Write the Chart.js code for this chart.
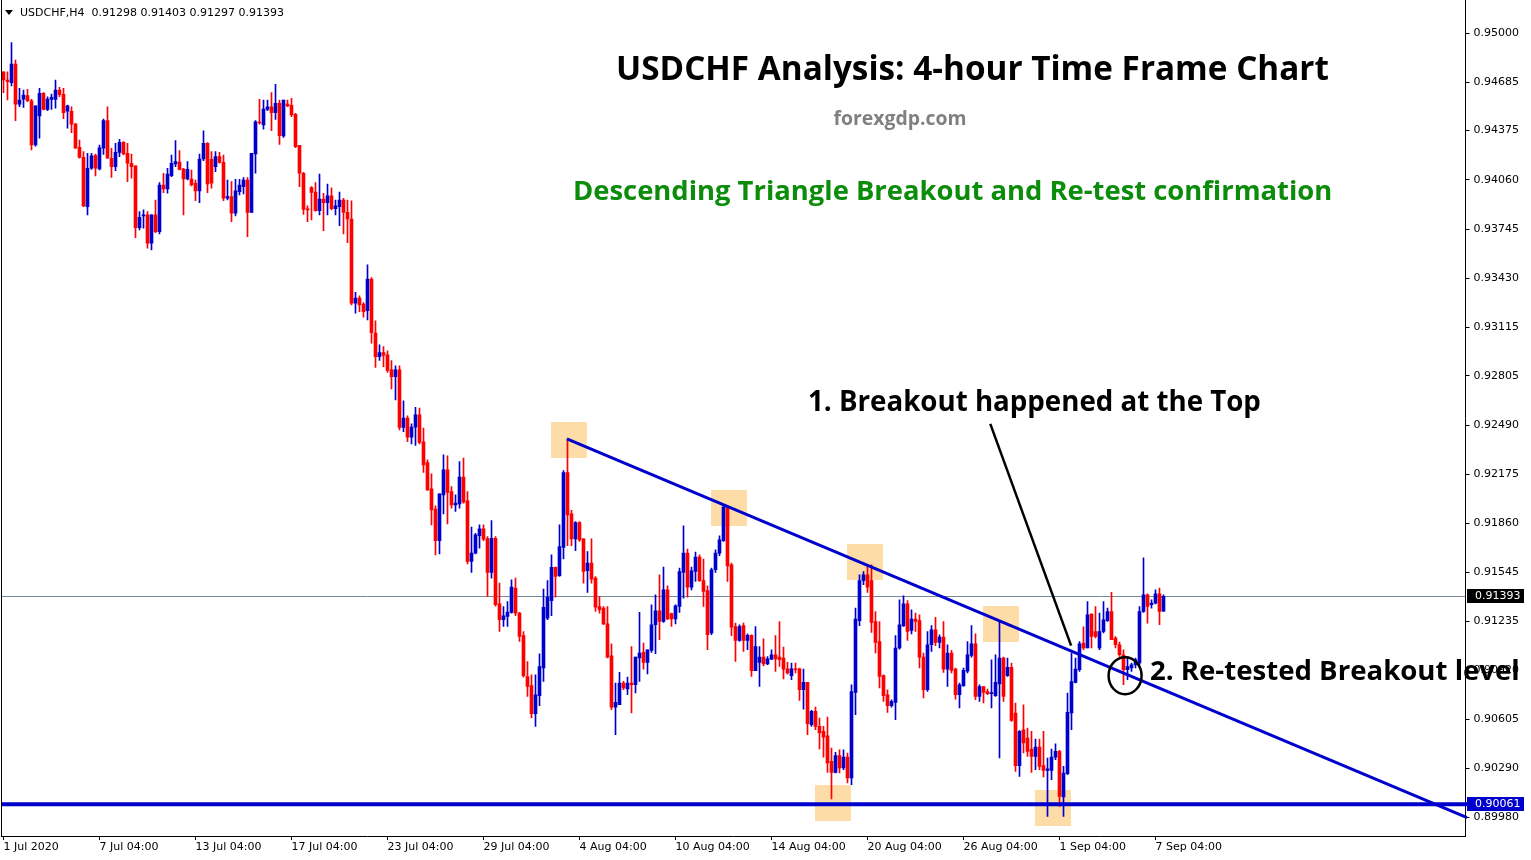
<!DOCTYPE html>
<html>
<head>
<meta charset="utf-8">
<script src="https://cdn.jsdelivr.net/npm/chart.js@4.4.1/dist/chart.umd.min.js"></script>
<style>
  html, body { margin: 0; padding: 0; background: #fff; }
  #wrap { width: 1531px; height: 860px; }
</style>
</head>
<body>
<div id="wrap"><canvas id="chart" width="1531" height="860"></canvas></div>
<script>
// ---- axis labels
const xLabels = ["1 Jul 2020", "7 Jul 04:00", "13 Jul 04:00", "17 Jul 04:00", "23 Jul 04:00", "29 Jul 04:00",
  "4 Aug 04:00", "10 Aug 04:00", "14 Aug 04:00", "20 Aug 04:00", "26 Aug 04:00", "1 Sep 04:00", "7 Sep 04:00"];
const barsPerLabel = 24;
const slotCount = 366;
const priceTicks = [0.95000, 0.94685, 0.94375, 0.94060, 0.93745, 0.93430, 0.93115, 0.92805, 0.92490,
  0.92175, 0.91860, 0.91545, 0.91235, 0.90920, 0.90605, 0.90290, 0.89980];
const yMin = 0.898585;
const yMax = 0.952113;

// ---- USDCHF H4 candles
const opens = [
  0.94752, 0.94699, 0.94682, 0.94801, 0.94545, 0.94576, 0.94599, 0.94565, 0.94283, 0.94469,
  0.94614, 0.94511, 0.94575, 0.94575, 0.94635, 0.94607, 0.94499, 0.94499, 0.94417, 0.94268,
  0.94204, 0.93888, 0.94134, 0.94215, 0.94129, 0.94262, 0.94439, 0.94198, 0.94144, 0.94236,
  0.94300, 0.94230, 0.94166, 0.94149, 0.93754, 0.93829, 0.93835, 0.93654, 0.93835, 0.93728,
  0.94027, 0.94001, 0.94087, 0.94161, 0.94174, 0.94129, 0.94065, 0.94065, 0.94038, 0.93989,
  0.94193, 0.94294, 0.94191, 0.94144, 0.94208, 0.94172, 0.93942, 0.93952, 0.93846, 0.93984,
  0.94016, 0.94059, 0.93852, 0.94225, 0.94430, 0.94411, 0.94511, 0.94528, 0.94490, 0.94550,
  0.94341, 0.94545, 0.94537, 0.94480, 0.94281, 0.94102, 0.93873, 0.94010, 0.93982, 0.93863,
  0.93937, 0.93914, 0.93957, 0.93875, 0.93888, 0.93931, 0.93852, 0.93809, 0.93270, 0.93302,
  0.93265, 0.93222, 0.93425, 0.93078, 0.92928, 0.92954, 0.92939, 0.92843, 0.92800, 0.92843,
  0.92474, 0.92534, 0.92412, 0.92476, 0.92555, 0.92382, 0.92250, 0.92081, 0.91951, 0.91750,
  0.92043, 0.92203, 0.92064, 0.91979, 0.91985, 0.92156, 0.92005, 0.91616, 0.91670, 0.91781,
  0.91825, 0.91763, 0.91546, 0.91765, 0.91345, 0.91243, 0.91264, 0.91290, 0.91446, 0.91286,
  0.91141, 0.90880, 0.90821, 0.90641, 0.90757, 0.90934, 0.91254, 0.91366, 0.91578, 0.91525,
  0.91706, 0.92186, 0.91921, 0.91761, 0.91866, 0.91761, 0.91558, 0.91606, 0.91510, 0.91328,
  0.91318, 0.91217, 0.91012, 0.90684, 0.90699, 0.90838, 0.90800, 0.90838, 0.90827, 0.90998,
  0.91034, 0.90970, 0.91047, 0.91211, 0.91300, 0.91232, 0.91435, 0.91282, 0.91248, 0.91328,
  0.91546, 0.91670, 0.91452, 0.91552, 0.91644, 0.91494, 0.91430, 0.91158, 0.91563, 0.91670,
  0.91750, 0.91964, 0.91595, 0.91200, 0.91111, 0.91205, 0.91111, 0.91143, 0.90917, 0.90970,
  0.91004, 0.90961, 0.90991, 0.91019, 0.91004, 0.90998, 0.90929, 0.90885, 0.90929, 0.90929,
  0.90795, 0.90842, 0.90571, 0.90657, 0.90560, 0.90528, 0.90500, 0.90336, 0.90266, 0.90373,
  0.90294, 0.90364, 0.90230, 0.90778, 0.91238, 0.91494, 0.91531, 0.91494, 0.91232, 0.91104,
  0.90885, 0.90763, 0.90693, 0.90714, 0.91062, 0.91204, 0.91345, 0.91175, 0.91248, 0.91238,
  0.91004, 0.90795, 0.91083, 0.91179, 0.91098, 0.91132, 0.90927, 0.91030, 0.90927, 0.90763,
  0.90821, 0.90914, 0.91015, 0.91089, 0.90752, 0.90816, 0.90784, 0.90770, 0.90757, 0.90833,
  0.90998, 0.90885, 0.90938, 0.90646, 0.90309, 0.90539, 0.90486, 0.90415, 0.90368, 0.90428,
  0.90309, 0.90279, 0.90279, 0.90364, 0.90400, 0.90108, 0.90258, 0.90646, 0.90842, 0.90923,
  0.91094, 0.91062, 0.91279, 0.91168, 0.91062, 0.91168, 0.91238, 0.91296, 0.91126, 0.91083,
  0.91019, 0.90923, 0.90934, 0.90955, 0.90966, 0.91296, 0.91403, 0.91339, 0.91350, 0.91409,
  0.91298
];
const highs = [
  0.94752, 0.94752, 0.94938, 0.94827, 0.94646, 0.94635, 0.94639, 0.94575, 0.94533, 0.94646,
  0.94618, 0.94592, 0.94609, 0.94699, 0.94652, 0.94646, 0.94539, 0.94528, 0.94422, 0.94315,
  0.94240, 0.94230, 0.94230, 0.94225, 0.94283, 0.94449, 0.94528, 0.94262, 0.94294, 0.94319,
  0.94305, 0.94294, 0.94225, 0.94149, 0.93856, 0.93867, 0.93856, 0.93835, 0.93931, 0.94042,
  0.94102, 0.94134, 0.94219, 0.94311, 0.94247, 0.94134, 0.94176, 0.94123, 0.94059, 0.94225,
  0.94373, 0.94298, 0.94240, 0.94240, 0.94236, 0.94219, 0.94059, 0.94048, 0.94063, 0.94063,
  0.94074, 0.94074, 0.94230, 0.94439, 0.94575, 0.94571, 0.94571, 0.94618, 0.94671, 0.94571,
  0.94571, 0.94571, 0.94582, 0.94486, 0.94281, 0.94108, 0.93893, 0.94016, 0.94042, 0.94097,
  0.93974, 0.94033, 0.94008, 0.93931, 0.93982, 0.93942, 0.93931, 0.93925, 0.93340, 0.93317,
  0.93274, 0.93515, 0.93434, 0.93157, 0.93003, 0.92992, 0.92965, 0.92903, 0.92869, 0.92869,
  0.92645, 0.92549, 0.92497, 0.92604, 0.92598, 0.92470, 0.92267, 0.92178, 0.91973, 0.92049,
  0.92299, 0.92293, 0.92096, 0.92043, 0.92256, 0.92278, 0.92064, 0.91836, 0.91796, 0.91851,
  0.91851, 0.91776, 0.91878, 0.91776, 0.91478, 0.91328, 0.91360, 0.91499, 0.91510, 0.91290,
  0.91168, 0.90976, 0.90891, 0.90891, 0.91025, 0.91440, 0.91494, 0.91659, 0.91580, 0.91851,
  0.92199, 0.92399, 0.91943, 0.91872, 0.91872, 0.91761, 0.91680, 0.91761, 0.91520, 0.91392,
  0.91328, 0.91328, 0.91089, 0.90838, 0.90906, 0.90849, 0.90876, 0.91072, 0.91004, 0.91290,
  0.91094, 0.91051, 0.91339, 0.91403, 0.91531, 0.91580, 0.91461, 0.91286, 0.91339, 0.91574,
  0.91845, 0.91696, 0.91580, 0.91676, 0.91659, 0.91632, 0.91461, 0.91574, 0.91691, 0.91781,
  0.91979, 0.91973, 0.91606, 0.91222, 0.91211, 0.91222, 0.91153, 0.91147, 0.91200, 0.91072,
  0.91121, 0.91008, 0.91051, 0.91141, 0.91232, 0.91068, 0.90970, 0.90966, 0.90966, 0.90934,
  0.90927, 0.90842, 0.90663, 0.90684, 0.90614, 0.90560, 0.90620, 0.90422, 0.90394, 0.90411,
  0.90411, 0.90390, 0.90827, 0.91318, 0.91531, 0.91552, 0.91595, 0.91595, 0.91296, 0.91232,
  0.90891, 0.90795, 0.90731, 0.91141, 0.91371, 0.91397, 0.91366, 0.91307, 0.91286, 0.91275,
  0.91030, 0.91168, 0.91205, 0.91259, 0.91147, 0.91232, 0.91083, 0.91047, 0.90934, 0.90838,
  0.90934, 0.91104, 0.91205, 0.91153, 0.90827, 0.90816, 0.90800, 0.90987, 0.91019, 0.91232,
  0.91004, 0.90998, 0.90966, 0.90710, 0.90534, 0.90699, 0.90550, 0.90528, 0.90479, 0.90479,
  0.90528, 0.90358, 0.90415, 0.90449, 0.90407, 0.90304, 0.90774, 0.91030, 0.90998, 0.91104,
  0.91197, 0.91360, 0.91281, 0.91328, 0.91286, 0.91360, 0.91318, 0.91418, 0.91136, 0.91100,
  0.91051, 0.91008, 0.90966, 0.90998, 0.91328, 0.91640, 0.91409, 0.91371, 0.91435, 0.91446,
  0.91403
];
const lows = [
  0.94618, 0.94571, 0.94661, 0.94439, 0.94528, 0.94524, 0.94560, 0.94251, 0.94276, 0.94326,
  0.94507, 0.94503, 0.94511, 0.94518, 0.94592, 0.94451, 0.94390, 0.94362, 0.94262, 0.94198,
  0.93888, 0.93835, 0.94127, 0.94085, 0.94123, 0.94223, 0.94198, 0.94076, 0.94118, 0.94208,
  0.94219, 0.94048, 0.94070, 0.93690, 0.93739, 0.93750, 0.93622, 0.93611, 0.93722, 0.93713,
  0.93978, 0.93974, 0.94080, 0.94144, 0.94123, 0.93835, 0.94059, 0.94021, 0.93926, 0.93914,
  0.94183, 0.93978, 0.94006, 0.94112, 0.94166, 0.93926, 0.93931, 0.93792, 0.93829, 0.93963,
  0.93969, 0.93696, 0.93852, 0.94102, 0.94417, 0.94385, 0.94503, 0.94375, 0.94447, 0.94287,
  0.94332, 0.94528, 0.94464, 0.94266, 0.94016, 0.93839, 0.93792, 0.93803, 0.93860, 0.93835,
  0.93734, 0.93835, 0.93867, 0.93835, 0.93766, 0.93713, 0.93658, 0.93259, 0.93206, 0.93216,
  0.93180, 0.93163, 0.93014, 0.92858, 0.92903, 0.92864, 0.92826, 0.92721, 0.92651, 0.92459,
  0.92448, 0.92384, 0.92369, 0.92359, 0.92369, 0.92186, 0.92071, 0.91851, 0.91659, 0.91665,
  0.91921, 0.91857, 0.91958, 0.91936, 0.91958, 0.91990, 0.91601, 0.91546, 0.91665, 0.91702,
  0.91750, 0.91392, 0.91510, 0.91330, 0.91168, 0.91200, 0.91200, 0.91286, 0.91269, 0.91104,
  0.90876, 0.90752, 0.90614, 0.90560, 0.90693, 0.90848, 0.91243, 0.91269, 0.91388, 0.91520,
  0.91632, 0.91717, 0.91717, 0.91686, 0.91744, 0.91478, 0.91418, 0.91478, 0.91296, 0.91286,
  0.91211, 0.90998, 0.90667, 0.90507, 0.90699, 0.90795, 0.90763, 0.90646, 0.90774, 0.90848,
  0.90927, 0.90897, 0.91034, 0.91026, 0.91115, 0.91226, 0.91243, 0.91200, 0.91216, 0.91290,
  0.91382, 0.91388, 0.91434, 0.91488, 0.91488, 0.91328, 0.91051, 0.91147, 0.91546, 0.91653,
  0.91744, 0.91488, 0.91141, 0.90976, 0.91104, 0.91040, 0.91051, 0.90880, 0.90917, 0.90816,
  0.90948, 0.90955, 0.90987, 0.90912, 0.90944, 0.90864, 0.90895, 0.90859, 0.90902, 0.90727,
  0.90671, 0.90507, 0.90560, 0.90539, 0.90416, 0.90364, 0.90266, 0.90096, 0.90262, 0.90262,
  0.90283, 0.90198, 0.90187, 0.90635, 0.91205, 0.91467, 0.91418, 0.91162, 0.91030, 0.90806,
  0.90720, 0.90650, 0.90684, 0.90603, 0.91055, 0.91200, 0.91111, 0.91153, 0.91168, 0.90934,
  0.90742, 0.90784, 0.91040, 0.91077, 0.91062, 0.90906, 0.90816, 0.90902, 0.90735, 0.90678,
  0.90816, 0.90902, 0.91004, 0.90731, 0.90720, 0.90710, 0.90763, 0.90678, 0.90752, 0.90358,
  0.90720, 0.90880, 0.90592, 0.90272, 0.90240, 0.90390, 0.90368, 0.90266, 0.90283, 0.90283,
  0.90236, 0.89984, 0.90219, 0.90347, 0.90048, 0.89984, 0.90251, 0.90539, 0.90838, 0.90912,
  0.91051, 0.91062, 0.91062, 0.91126, 0.91051, 0.91158, 0.91232, 0.91115, 0.91062, 0.91008,
  0.90827, 0.90859, 0.90912, 0.90934, 0.90955, 0.91290, 0.91222, 0.91318, 0.91345, 0.91211,
  0.91297
];
const closes = [
  0.94699, 0.94688, 0.94801, 0.94545, 0.94571, 0.94603, 0.94567, 0.94283, 0.94533, 0.94614,
  0.94511, 0.94577, 0.94588, 0.94635, 0.94605, 0.94490, 0.94533, 0.94417, 0.94262, 0.94204,
  0.93893, 0.94134, 0.94213, 0.94134, 0.94264, 0.94439, 0.94198, 0.94144, 0.94236, 0.94300,
  0.94225, 0.94166, 0.94144, 0.93754, 0.93820, 0.93835, 0.93654, 0.93835, 0.93728, 0.94027,
  0.94001, 0.94097, 0.94166, 0.94176, 0.94127, 0.94065, 0.94127, 0.94027, 0.93989, 0.94193,
  0.94294, 0.94033, 0.94038, 0.94208, 0.94172, 0.93942, 0.93952, 0.93846, 0.93989, 0.94027,
  0.94059, 0.93852, 0.94230, 0.94432, 0.94424, 0.94513, 0.94528, 0.94490, 0.94550, 0.94343,
  0.94571, 0.94533, 0.94475, 0.94272, 0.94102, 0.93871, 0.93867, 0.93980, 0.93863, 0.93937,
  0.93914, 0.93957, 0.93875, 0.93894, 0.93931, 0.93852, 0.93809, 0.93270, 0.93302, 0.93259,
  0.93216, 0.93425, 0.93082, 0.92928, 0.92954, 0.92935, 0.92839, 0.92800, 0.92843, 0.92474,
  0.92534, 0.92412, 0.92476, 0.92555, 0.92378, 0.92235, 0.92075, 0.91947, 0.91750, 0.92049,
  0.92203, 0.92058, 0.91979, 0.91990, 0.92156, 0.91996, 0.91616, 0.91670, 0.91787, 0.91825,
  0.91759, 0.91546, 0.91765, 0.91339, 0.91243, 0.91269, 0.91292, 0.91452, 0.91286, 0.91136,
  0.90885, 0.90816, 0.90641, 0.90763, 0.90944, 0.91322, 0.91386, 0.91578, 0.91520, 0.91712,
  0.92186, 0.91915, 0.91761, 0.91866, 0.91755, 0.91552, 0.91606, 0.91503, 0.91324, 0.91307,
  0.91217, 0.91004, 0.90684, 0.90714, 0.90838, 0.90806, 0.90838, 0.90827, 0.91004, 0.91030,
  0.90970, 0.91051, 0.91211, 0.91300, 0.91232, 0.91435, 0.91248, 0.91248, 0.91333, 0.91552,
  0.91670, 0.91452, 0.91557, 0.91644, 0.91494, 0.91424, 0.91147, 0.91563, 0.91670, 0.91755,
  0.91964, 0.91587, 0.91196, 0.91111, 0.91200, 0.91111, 0.91143, 0.90917, 0.91072, 0.91004,
  0.90961, 0.90993, 0.91019, 0.90993, 0.90987, 0.90927, 0.90902, 0.90929, 0.90923, 0.90795,
  0.90842, 0.90577, 0.90657, 0.90560, 0.90518, 0.90492, 0.90326, 0.90266, 0.90373, 0.90294,
  0.90364, 0.90230, 0.90784, 0.91248, 0.91494, 0.91531, 0.91452, 0.91226, 0.91098, 0.90880,
  0.90757, 0.90693, 0.90720, 0.91062, 0.91211, 0.91345, 0.91168, 0.91248, 0.91232, 0.91004,
  0.90795, 0.91083, 0.91179, 0.91098, 0.91132, 0.90927, 0.91030, 0.90919, 0.90763, 0.90827,
  0.90919, 0.91019, 0.91089, 0.90752, 0.90816, 0.90778, 0.90770, 0.90774, 0.90842, 0.90998,
  0.90752, 0.90938, 0.90599, 0.90309, 0.90528, 0.90454, 0.90400, 0.90368, 0.90428, 0.90304,
  0.90279, 0.90288, 0.90364, 0.90400, 0.90112, 0.90262, 0.90650, 0.90848, 0.90927, 0.91089,
  0.91062, 0.91275, 0.91136, 0.91136, 0.91168, 0.91243, 0.91296, 0.91115, 0.91083, 0.91019,
  0.90923, 0.90944, 0.90955, 0.90987, 0.91296, 0.91403, 0.91328, 0.91350, 0.91409, 0.91296,
  0.91393
];

// ---- drawn objects (data coordinates: bar index, price)
const lastPrice = 0.91393;
const supportLevel = 0.90061;
const trendLine = [140.85, 0.92401, 365.9, 0.89976];
const arrowLine = [246.7, 0.92497, 266.9, 0.91077];
const retestCircle = [280.4, 0.90885];
const swingBoxes = [[141.4, 0.92395], [181.4, 0.91960], [215.4, 0.91614], [249.4, 0.91217], [207.4, 0.90072], [262.4, 0.90040]];

const BULL = "#0000cd";
const BEAR = "#ff0000";

const categories = [];
for (let i = 0; i < slotCount; i++) {
  const k = i / barsPerLabel;
  categories.push(i % barsPerLabel === 0 && k < xLabels.length ? xLabels[k] : "");
}
const candleColors = closes.map((c, i) => (c >= opens[i] ? BULL : BEAR));

// overlay: boxes, lines, texts -------------------------------
const overlay = {
  id: "overlay",
  beforeDatasetsDraw(chart) {
    const { ctx, chartArea: a, scales: { x, y } } = chart;
    ctx.save();
    ctx.fillStyle = "#fddca8";
    swingBoxes.forEach(([i, p]) => {
      const cx = x.getPixelForValue(i);
      const cy = y.getPixelForValue(p);
      ctx.fillRect(Math.round(cx - 18), Math.round(cy - 18), 36, 36);
    });
    // last price line
    const py = Math.round(y.getPixelForValue(lastPrice)) + 0.5;
    ctx.strokeStyle = "#778899";
    ctx.lineWidth = 1;
    ctx.beginPath();
    ctx.moveTo(a.left, py);
    ctx.lineTo(a.right, py);
    ctx.stroke();
    ctx.restore();
  },
  afterDatasetsDraw(chart) {
    const { ctx, chartArea: a, scales: { x, y } } = chart;
    ctx.save();
    ctx.beginPath();
    ctx.rect(a.left, a.top, a.right - a.left + 2, a.bottom - a.top);
    ctx.clip();
    // support line
    const sy = y.getPixelForValue(supportLevel);
    ctx.strokeStyle = BULL;
    ctx.lineWidth = 4;
    ctx.beginPath();
    ctx.moveTo(a.left, sy);
    ctx.lineTo(a.right + 2, sy);
    ctx.stroke();
    // trend line
    ctx.lineWidth = 3;
    ctx.beginPath();
    ctx.moveTo(x.getPixelForValue(trendLine[0]), y.getPixelForValue(trendLine[1]));
    ctx.lineTo(x.getPixelForValue(trendLine[2]), y.getPixelForValue(trendLine[3]));
    ctx.stroke();
    // pointer line
    ctx.strokeStyle = "#000";
    ctx.lineWidth = 2.5;
    ctx.beginPath();
    ctx.moveTo(x.getPixelForValue(arrowLine[0]), y.getPixelForValue(arrowLine[1]));
    ctx.lineTo(x.getPixelForValue(arrowLine[2]), y.getPixelForValue(arrowLine[3]));
    ctx.stroke();
    // retest circle
    ctx.beginPath();
    ctx.ellipse(x.getPixelForValue(retestCircle[0]), y.getPixelForValue(retestCircle[1]), 16.5, 18.5, 0, 0, Math.PI * 2);
    ctx.stroke();
    ctx.restore();
  },
  afterDraw(chart) {
    const { ctx, chartArea: a, scales: { y } } = chart;
    ctx.save();
    // left frame
    ctx.fillStyle = "#000";
    ctx.fillRect(1, 0, 1, a.bottom + 1);

    // price boxes on the axis
    const box = (val, bg) => {
      const cy = Math.round(y.getPixelForValue(val));
      ctx.fillStyle = bg;
      ctx.fillRect(a.right + 1.5, cy - 7, 57, 14);
      ctx.fillStyle = "#fff";
      ctx.font = '11px "DejaVu Sans"';
      ctx.textBaseline = "middle";
      ctx.textAlign = "left";
      ctx.fillText(val.toFixed(5), a.right + 9.5, cy + 0.5);
    };
    box(lastPrice, "#000");
    box(supportLevel, BULL);

    // header
    const n = closes.length - 1;
    ctx.fillStyle = "#000";
    ctx.beginPath();
    ctx.moveTo(5, 10);
    ctx.lineTo(13, 10);
    ctx.lineTo(9, 15);
    ctx.closePath();
    ctx.fill();
    ctx.font = '11px "DejaVu Sans"';
    ctx.textBaseline = "middle";
    ctx.fillText("USDCHF,H4  " + [opens[n], highs[n], lows[n], closes[n]].map(v => v.toFixed(5)).join(" "), 20, 13);

    // titles and notes
    ctx.textBaseline = "alphabetic";
    ctx.textAlign = "left";
    ctx.font = 'bold 33.3px "Open Sans"';
    ctx.fillText("USDCHF Analysis: 4-hour Time Frame Chart", 616, 80);
    ctx.fillStyle = "#808080";
    ctx.textAlign = "center";
    ctx.font = 'bold 19.4px "Open Sans"';
    ctx.fillText("forexgdp.com", 900, 125);
    ctx.fillStyle = "#0b8c0b";
    ctx.textAlign = "left";
    ctx.font = 'bold 27.4px "Open Sans"';
    ctx.fillText("Descending Triangle Breakout and Re-test confirmation", 573, 200);
    ctx.fillStyle = "#000";
    ctx.font = 'bold 27.7px "Open Sans"';
    ctx.fillText("1. Breakout happened at the Top", 808, 411);
    ctx.font = 'bold 27.6px "Open Sans"';
    ctx.fillText("2. Re-tested Breakout level", 1150, 680);
    ctx.restore();
  }
};

const ctx = document.getElementById("chart").getContext("2d");
new Chart(ctx, {
  type: "bar",
  data: {
    labels: categories,
    datasets: [
      {
        label: "body",
        data: opens.map((o, i) => [o, closes[i]]),
        backgroundColor: candleColors,
        barThickness: 3,
        minBarLength: 1,
        borderWidth: 0,
        grouped: false
      },
      {
        label: "wick",
        data: lows.map((l, i) => [l, highs[i]]),
        backgroundColor: candleColors,
        barThickness: 1,
        borderWidth: 0,
        grouped: false
      }
    ]
  },
  options: {
    responsive: false,
    animation: false,
    devicePixelRatio: 1,
    layout: { padding: { left: 1.5, top: 0, right: 0, bottom: 0 } },
    plugins: { legend: { display: false }, tooltip: { enabled: false } },
    scales: {
      x: {
        type: "category",
        offset: true,
        afterBuildTicks(scale) {
          scale.ticks = scale.ticks.filter(t => categories[t.value] !== "");
        },
        afterFit(scale) {
          scale.height = 24;
          scale.paddingLeft = 0;
          scale.paddingRight = 0;
        },
        grid: { display: true, drawOnChartArea: false, drawTicks: true, tickLength: 4, color: "#000", offset: false },
        border: { display: true, color: "#000" },
        ticks: {
          autoSkip: false, maxRotation: 0, align: "start", padding: 1,
          color: "#000", font: { family: "DejaVu Sans", size: 11 },
          callback(v) { return categories[v]; }
        }
      },
      y: {
        position: "right",
        min: yMin,
        max: yMax,
        afterBuildTicks(scale) {
          scale.ticks = priceTicks.map(v => ({ value: v }));
        },
        afterFit(scale) {
          scale.width = 65.5;
          scale.paddingTop = 0;
          scale.paddingBottom = 0;
        },
        grid: { drawOnChartArea: false, drawTicks: true, tickLength: 4, color: "#000" },
        border: { display: true, color: "#000" },
        ticks: {
          autoSkip: false, padding: 4,
          color: "#000", font: { family: "DejaVu Sans", size: 11 },
          callback(v) { return Number(v).toFixed(5); }
        }
      }
    }
  },
  plugins: [overlay]
});
</script>
</body>
</html>
